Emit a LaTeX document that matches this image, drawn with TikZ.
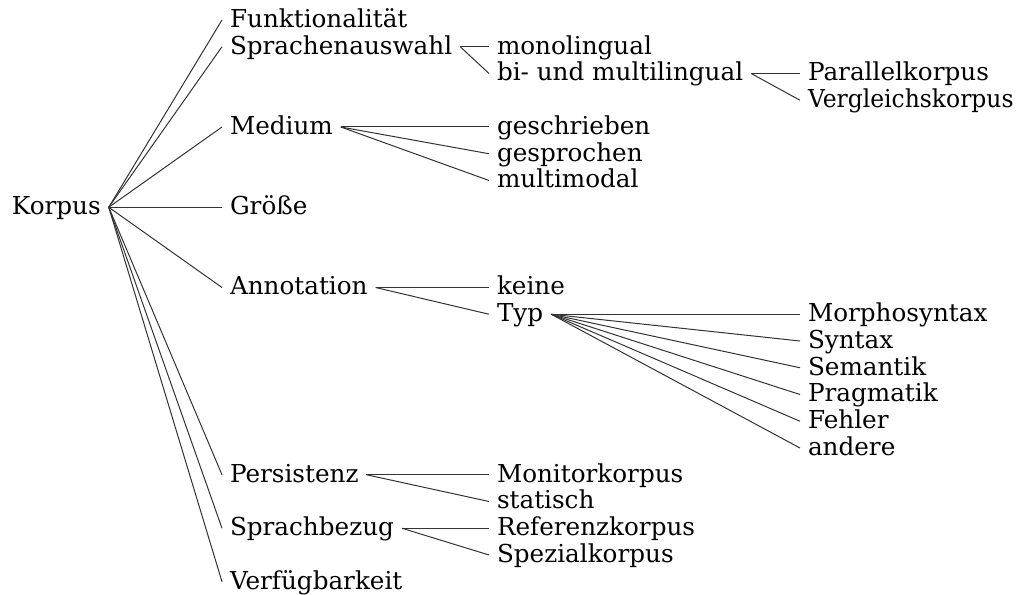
\documentclass[tikz,border=0pt]{standalone}
\usepackage{fontspec}
\setmainfont{DejaVu Serif}
\begin{document}
\begin{tikzpicture}[x=0.75pt,y=-0.75pt,
  lbl/.style={anchor=west, inner sep=0pt, outer xsep=6pt, outer ysep=0pt,
    text height=14pt, text depth=3pt, font=\fontsize{18.5}{22}\selectfont},
  con/.style={line width=0.75pt, black!80}]
\useasboundingbox (0,0) rectangle (1025,595);
% level 0
\node[lbl] (k) at (4,207.25) {Korpus};
% level 1
\node[lbl] (f)   at (222,20)     {Funktionalität};
\node[lbl] (s)   at (222,46.75)  {Sprachenauswahl};
\node[lbl] (med) at (222,127)    {Medium};
\node[lbl] (gr)  at (222,207.25) {Größe};
\node[lbl] (ann) at (222,287.5)  {Annotation};
\node[lbl] (per) at (222,474.75) {Persistenz};
\node[lbl] (spb) at (222,528.25) {Sprachbezug};
\node[lbl] (vf)  at (222,581.75) {Verfügbarkeit};
% level 2
\node[lbl] (mono) at (489,46.75)  {monolingual};
\node[lbl] (bi)   at (489,73.5)   {bi- und multilingual};
\node[lbl] (ges)  at (489,127)    {geschrieben};
\node[lbl] (gsp)  at (489,153.75) {gesprochen};
\node[lbl] (mm)   at (489,180.5)  {multimodal};
\node[lbl] (kei)  at (489,287.5)  {keine};
\node[lbl] (typ)  at (489,314.25) {Typ};
\node[lbl] (mon)  at (489,474.75) {Monitorkorpus};
\node[lbl] (sta)  at (489,501.5)  {statisch};
\node[lbl] (ref)  at (489,528.25) {Referenzkorpus};
\node[lbl] (spz)  at (489,555)    {Spezialkorpus};
% level 3
\node[lbl] (par) at (800,73.5)   {Parallelkorpus};
\node[lbl] (ver) at (800,100.25) {\scalebox{0.95}[1]{Vergleichskorpus}};
\node[lbl] (mor) at (800,314.25) {Morphosyntax};
\node[lbl] (syn) at (800,341)    {Syntax};
\node[lbl] (sem) at (800,367.75) {Semantik};
\node[lbl] (pra) at (800,394.5)  {Pragmatik};
\node[lbl] (feh) at (800,421.25) {Fehler};
\node[lbl] (and) at (800,448)    {andere};
% connectors
\foreach \c in {f,s,med,gr,ann,per,spb,vf} \draw[con] (k.east) -- (\c.west);
\foreach \c in {mono,bi} \draw[con] (s.east) -- (\c.west);
\foreach \c in {par,ver} \draw[con] (bi.east) -- (\c.west);
\foreach \c in {ges,gsp,mm} \draw[con] (med.east) -- (\c.west);
\foreach \c in {kei,typ} \draw[con] (ann.east) -- (\c.west);
\foreach \c in {mor,syn,sem,pra,feh,and} \draw[con] (typ.east) -- (\c.west);
\foreach \c in {mon,sta} \draw[con] (per.east) -- (\c.west);
\foreach \c in {ref,spz} \draw[con] (spb.east) -- (\c.west);
\end{tikzpicture}
\end{document}
